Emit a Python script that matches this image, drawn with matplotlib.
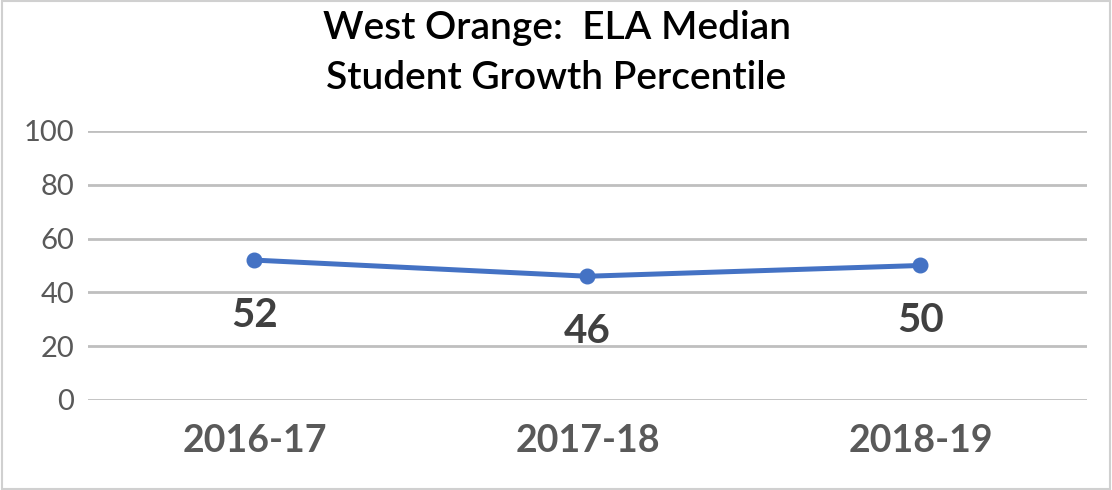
import matplotlib
matplotlib.use("Agg")
import matplotlib.pyplot as plt
from matplotlib.patches import Rectangle

categories = ["2016-17", "2017-18", "2018-19"]
values = [52, 46, 50]
yticks = [0, 20, 40, 60, 80, 100]
title_lines = ["West Orange:  ELA Median", "Student Growth Percentile"]

plt.rcParams['font.family'] = ['Lato', 'DejaVu Sans']

fig = plt.figure(figsize=(11.12, 4.9), dpi=100)
fig.patch.set_facecolor("white")
fig.patches.append(Rectangle((0.002, 0.002), 0.996, 0.996, transform=fig.transFigure,
                             fill=False, edgecolor="#D0D0D0", linewidth=1.5))

ax = fig.add_axes([0.0791, 0.1837, 0.8984, 0.549])
x = list(range(len(categories)))
ax.plot(x, values, color="#4472C4", linewidth=3.6, marker="o", markersize=10.5,
        solid_capstyle="round", zorder=3)
for xi, v in zip(x, values):
    ax.annotate(str(v), (xi, v), xytext=(0, -55), textcoords="offset pixels",
                ha="center", va="center", fontsize=29, fontweight="bold", color="#404040")

ax.set_xlim(-0.5, 2.5)
ax.set_ylim(0, 100)
ax.set_yticks(yticks)
ax.set_xticks(x)
ax.set_xticklabels(categories, fontsize=27, fontweight="bold", color="#595959")
ax.tick_params(axis="y", labelsize=21, labelcolor="#595959", length=0, pad=10)
ax.tick_params(axis="x", length=0, pad=17)
ax.grid(axis="y", color="#BFBFBF", linewidth=2)
ax.set_axisbelow(True)
for s in ax.spines.values():
    s.set_visible(False)

fig.text(0.5005, 1 - 28 / 490, title_lines[0], ha="center", va="center", fontsize=28,
         fontweight="semibold", color="black")
fig.text(0.5005, 1 - 78 / 490, title_lines[1], ha="center", va="center", fontsize=28,
         fontweight="semibold", color="black")

fig.savefig("out.png", dpi=100, facecolor="white")
